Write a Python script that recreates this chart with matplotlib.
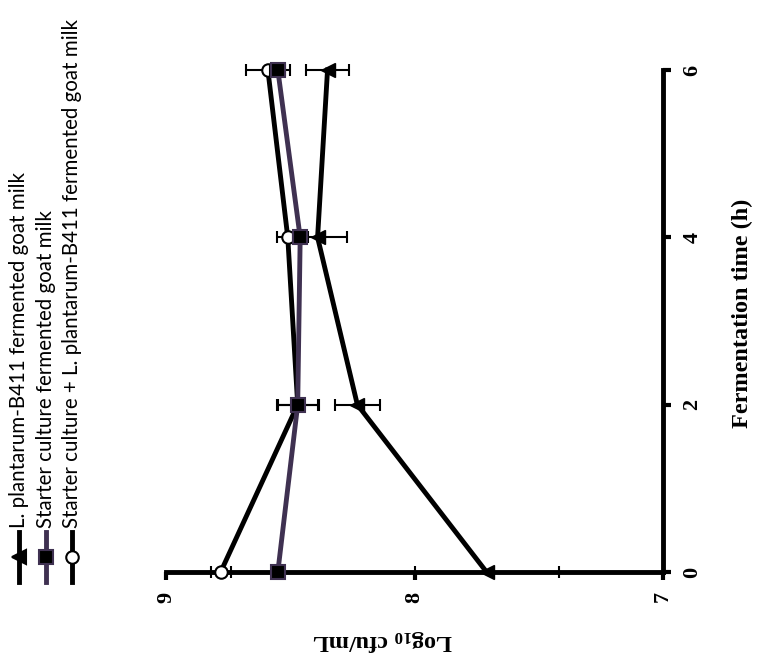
import matplotlib
matplotlib.use("Agg")
import matplotlib.pyplot as plt
from matplotlib.lines import Line2D

# Data read from the (rotated) reference chart
hours = [0, 2, 4, 6]
lp_mean = [7.71, 8.23, 8.39, 8.35]
lp_sd = [0.29, 0.09, 0.12, 0.085]
starter_mean = [8.55, 8.47, 8.46, 8.55]
starter_sd = [0.0, 0.085, 0.03, 0.03]
mixed_mean = [8.78, 8.47, 8.51, 8.59]
mixed_sd = [0.04, 0.08, 0.045, 0.09]

labels = [
    "L. plantarum-B411 fermented goat milk",
    "Starter culture fermented goat milk",
    "Starter culture + L. plantarum-B411 fermented goat milk",
]
value_ticks = [9, 8, 7]
time_ticks = [0, 2, 4, 6]

W, H = 757, 659
purple = "#3f3151"
serif = "Liberation Serif"

plt.rcParams["mathtext.fontset"] = "custom"
plt.rcParams["mathtext.rm"] = "Liberation Serif:bold"
plt.rcParams["mathtext.bf"] = "Liberation Serif:bold"

fig = plt.figure(figsize=(W / 100, H / 100), dpi=100)
# chart is drawn rotated 90 degrees: value on x (reversed), time on y
ax = fig.add_axes([166 / W, 1 - 572 / H, (663 - 166) / W, (572 - 70) / H])
ax.set_xlim(9, 7)
ax.set_ylim(0, 6)

for s in ["left", "top"]:
    ax.spines[s].set_visible(False)
for s in ["bottom", "right"]:
    ax.spines[s].set_linewidth(3.5)

ax.yaxis.tick_right()
ax.set_xticks(value_ticks)
ax.set_yticks(time_ticks)
ax.set_xticklabels([str(v) for v in value_ticks], rotation=90,
                   fontfamily=serif, fontweight="bold", fontsize=16)
ax.set_yticklabels([str(v) for v in time_ticks], rotation=90, va="center",
                   fontfamily=serif, fontweight="bold", fontsize=16)
ax.tick_params(direction="out", length=6, width=3, pad=8)

eb = dict(capsize=4, elinewidth=1.5, capthick=1.5, ecolor="black", clip_on=False)

ax.errorbar(lp_mean, hours, xerr=lp_sd, color="black", lw=3.5, marker="<",
            ms=10, mfc="black", mec="black", zorder=5, **eb)
ax.errorbar(mixed_mean, hours, xerr=mixed_sd, color="black", lw=3.5, marker="o",
            ms=9, mfc="white", mec="black", mew=1.5, zorder=6, **eb)
ax.errorbar(starter_mean, hours, xerr=starter_sd, color=purple, lw=3.5, marker="s",
            ms=10, mfc="black", mec=purple, mew=1.5, zorder=7, **eb)

ax.text(1.16, 0.515, "Fermentation time (h)", transform=ax.transAxes, rotation=90,
        ha="center", va="center", fontfamily=serif, fontweight="bold", fontsize=17.5)
ax.text(0.435, -0.137, r"Log$_{10}$ cfu/mL", transform=ax.transAxes, rotation=180,
        ha="center", va="center", fontfamily=serif, fontweight="bold", fontsize=17.5)

# legend, drawn rotated along the left edge
leg_x = [19, 46, 72]
styles = [
    dict(color="black", marker="<", mfc="black", mec="black", ms=10),
    dict(color=purple, marker="s", mfc="black", mec=purple, ms=10),
    dict(color="black", marker="o", mfc="white", mec="black", ms=9),
]
for x, lab, st in zip(leg_x, labels, styles):
    fx = x / W
    fig.add_artist(Line2D([fx, fx], [1 - 582 / H, 1 - 532 / H], transform=fig.transFigure,
                          color=st["color"], lw=3.5))
    fig.add_artist(Line2D([fx], [1 - 557 / H], transform=fig.transFigure, ls="none",
                          marker=st["marker"], ms=st["ms"], mfc=st["mfc"], mec=st["mec"],
                          mew=1.5))
    fig.text(fx, 1 - 528 / H, lab, rotation=90, ha="center", va="bottom",
             fontfamily="Lato", fontsize=14.8)

fig.savefig("out.png", dpi=100)
